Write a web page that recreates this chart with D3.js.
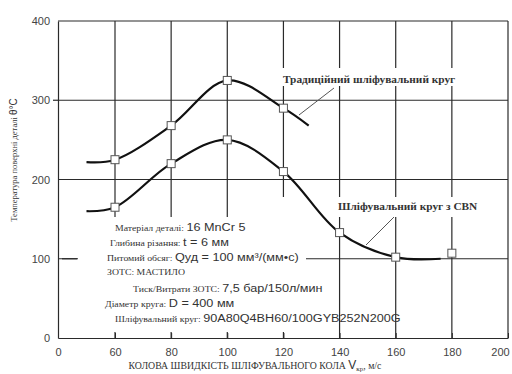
<!DOCTYPE html>
<html>
<head>
<meta charset="utf-8">
<script src="https://cdn.jsdelivr.net/npm/d3@7"></script>
<style>
  body { margin: 0; background: #fff; }
  svg { display: block; }
  .tick text { font-family: "Liberation Sans", Arial, sans-serif; font-size: 11px; fill: #444; }
  .ser { font-family: "Liberation Serif", "DejaVu Serif", serif; font-size: 8.5px; fill: #333; }
  .san { font-family: "Liberation Sans", Arial, sans-serif; font-size: 11px; fill: #333; }
</style>
</head>
<body>
<svg id="chart" width="512" height="374"></svg>
<script>
// axis ticks (broken axis: 0, then 60..200)
var xTicks = [0, 60, 80, 100, 120, 140, 160, 180, 200];
var yTicks = [0, 100, 200, 300, 400];

// traditional wheel
var tradV = [60, 80, 100, 120];
var tradT = [225, 268, 325, 290];
var tradCurveV = [30, 60, 80, 100, 120, 129];
var tradCurveT = [222, 225, 268, 325, 290, 268];

// CBN wheel
var cbnV = [60, 80, 100, 120, 140, 160, 180];
var cbnT = [165, 220, 250, 210, 133, 102, 107];
var cbnCurveV = [30, 60, 80, 100, 120, 140, 160, 176];
var cbnCurveT = [160, 165, 220, 250, 210, 133, 102, 100];

var notes = [
  ["Матеріал деталі: ", "16 MnCr 5"],
  ["Глибина різання: ", "t = 6 мм"],
  ["Питомий обсяг: ", "Qуд = 100 мм³/(мм•с)"],
  ["ЗОТС: МАСТИЛО", ""],
  ["Тиск/Витрати ЗОТС: ", "7,5 бар/150л/мин"],
  ["Діаметр круга: ", "D = 400 мм"],
  ["Шліфувальний круг: ", "90A80Q4BH60/100GYB252N200G"]
];

var svg = d3.select("#chart");
var g = svg.append("g");

var x = d3.scaleLinear()
    .domain([0, 60, 200])
    .range([58, 115, 508]);

var y = d3.scaleLinear()
    .domain([0, 400])
    .range([338, 21]);

var lineColor = "#2a2a2a";

// grid
g.selectAll(".hgrid")
    .data([100, 200, 300, 400])
  .enter().append("line")
    .attr("x1", x(0)).attr("x2", x(200))
    .attr("y1", function(d) { return y(d); })
    .attr("y2", function(d) { return y(d); })
    .attr("stroke", lineColor).attr("stroke-width", 1.2);

g.selectAll(".vgrid")
    .data([60, 80, 100, 120, 140, 160, 180, 200])
  .enter().append("line")
    .attr("y1", y(0)).attr("y2", y(400))
    .attr("x1", function(d) { return x(d); })
    .attr("x2", function(d) { return x(d); })
    .attr("stroke", lineColor).attr("stroke-width", 1.2);

// white boxes behind annotations
g.append("rect").attr("x", 78).attr("y", 217).attr("width", 228).attr("height", 115).attr("fill", "#fff");
g.append("rect").attr("x", 276).attr("y", 197).attr("width", 200).attr("height", 20).attr("fill", "#fff");
g.append("rect").attr("x", 276).attr("y", 68).attr("width", 184).attr("height", 18).attr("fill", "#fff");

// axes
var xAxis = d3.axisBottom(x).tickValues(xTicks).tickSizeInner(-5).tickSizeOuter(0).tickPadding(10);
var xg = g.append("g").attr("transform", "translate(0," + y(0) + ")").call(xAxis);
xg.select(".domain").attr("stroke", lineColor).attr("stroke-width", 1.2);
xg.selectAll(".tick line").attr("stroke", lineColor);
xg.selectAll(".tick text").filter(function(d) { return d === 200; }).attr("dx", -8);

var yAxis = d3.axisLeft(y).tickValues(yTicks).tickSize(0).tickPadding(8);
var yg = g.append("g").attr("transform", "translate(" + x(0) + ",0)").call(yAxis);
yg.select(".domain").attr("stroke", lineColor).attr("stroke-width", 1.2);

// small outside ticks
g.append("line").attr("x1", 53).attr("x2", 58).attr("y1", y(300)).attr("y2", y(300)).attr("stroke", lineColor).attr("stroke-width", 1.2);
g.append("line").attr("x1", 62).attr("x2", 77).attr("y1", y(100)).attr("y2", y(100)).attr("stroke", lineColor).attr("stroke-width", 1.2);

// curves
var line = d3.line()
    .x(function(d) { return x(d[0]); })
    .y(function(d) { return y(d[1]); })
    .curve(d3.curveCatmullRom.alpha(0.5));

g.append("path")
    .datum(d3.zip(tradCurveV, tradCurveT))
    .attr("d", line)
    .attr("fill", "none").attr("stroke", "#111").attr("stroke-width", 2.2);

g.append("path")
    .datum(d3.zip(cbnCurveV, cbnCurveT))
    .attr("d", line)
    .attr("fill", "none").attr("stroke", "#111").attr("stroke-width", 2.2);

// markers
function markers(vs, ts) {
  g.selectAll(null)
      .data(d3.zip(vs, ts))
    .enter().append("rect")
      .attr("x", function(d) { return x(d[0]) - 4; })
      .attr("y", function(d) { return y(d[1]) - 4; })
      .attr("width", 8).attr("height", 8)
      .attr("fill", "#fff").attr("stroke", "#555").attr("stroke-width", 1);
}
markers(tradV, tradT);
markers(cbnV, cbnT);

// curve labels
g.append("text").attr("class", "ser")
    .attr("transform", "translate(283,83) scale(1.08,1)")
    .style("font-weight", "bold").style("font-size", "10.5px")
    .text("Традиційний шліфувальний круг");
g.append("line").attr("x1", 334).attr("y1", 88).attr("x2", 299).attr("y2", 115)
    .attr("stroke", "#555").attr("stroke-width", 1);

g.append("text").attr("class", "ser")
    .attr("transform", "translate(338,210) scale(1.08,1)")
    .style("font-weight", "bold").style("font-size", "10.5px")
    .text("Шліфувальний круг з CBN");
g.append("line").attr("x1", 394).attr("y1", 217).attr("x2", 366).attr("y2", 245)
    .attr("stroke", "#555").attr("stroke-width", 1);

// annotation block
var noteX = [115, 110, 107, 107, 133, 105, 115];
var noteY = [231, 246, 261, 275, 292, 307, 322];
notes.forEach(function(n, i) {
  var t = g.append("text")
      .attr("transform", "translate(" + noteX[i] + "," + noteY[i] + ") scale(1.15,1)");
  t.append("tspan").attr("class", "ser").text(n[0]);
  if (n[1]) t.append("tspan").attr("class", "san").text(n[1]);
});

// axis titles
var yl = g.append("text")
    .attr("transform", "translate(17,160) rotate(-90)")
    .attr("text-anchor", "middle");
yl.append("tspan").attr("class", "ser").style("font-size", "8.5px").text("Температура поверхні деталі ");
yl.append("tspan").attr("class", "san").style("font-size", "10px").text("θ°C");

var xl = g.append("text")
    .attr("x", 255).attr("y", 369)
    .attr("text-anchor", "middle");
xl.append("tspan").attr("class", "ser").style("font-size", "9.8px").text("КОЛОВА ШВИДКІСТЬ ШЛІФУВАЛЬНОГО КОЛА ");
xl.append("tspan").attr("class", "san").style("font-size", "12px").text("V");
xl.append("tspan").attr("class", "ser").style("font-size", "7px").attr("dy", 2).text("кр");
xl.append("tspan").attr("class", "ser").style("font-size", "9.8px").attr("dy", -2).text(", м/с");
</script>
</body>
</html>
